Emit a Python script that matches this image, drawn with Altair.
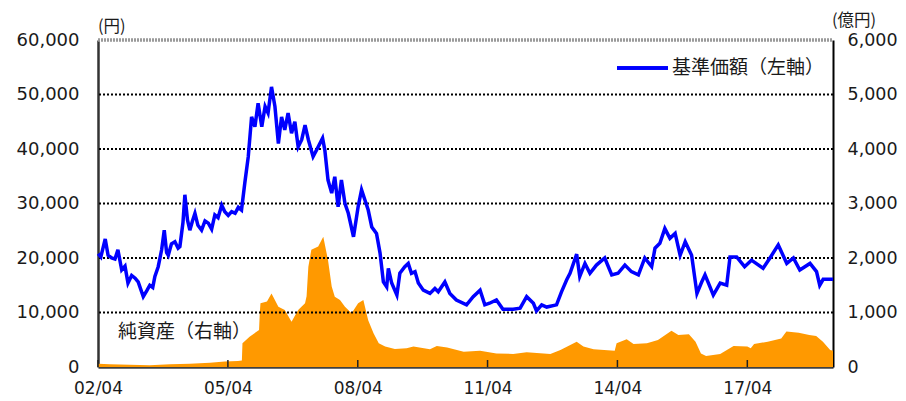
import altair as alt
import pandas as pd

# 基準価額（円） — left axis
nav_dates = [
    "2002-04-03", "2002-04-25", "2002-06-01", "2002-06-25", "2002-07-25", "2002-08-22",
    "2002-09-16", "2002-10-18", "2002-11-15", "2002-12-10", "2003-01-10", "2003-02-08",
    "2003-03-06", "2003-04-18", "2003-05-18", "2003-06-12", "2003-07-07", "2003-07-25",
    "2003-08-22", "2003-09-20", "2003-10-12", "2003-11-01", "2003-11-15", "2003-12-12",
    "2004-01-10", "2004-02-06", "2004-02-21", "2004-03-18", "2004-04-03", "2004-04-25",
    "2004-05-15", "2004-06-06", "2004-06-27", "2004-07-22", "2004-08-22", "2004-09-20",
    "2004-10-18", "2004-11-15", "2004-12-12", "2005-01-08", "2005-02-08", "2005-03-06",
    "2005-04-04", "2005-05-03", "2005-06-01", "2005-06-28", "2005-07-25", "2005-08-22",
    "2005-09-20", "2005-10-18", "2005-11-15", "2005-12-12", "2006-01-12", "2006-02-09",
    "2006-03-06", "2006-04-04", "2006-05-03", "2006-06-01", "2006-06-28", "2006-07-25",
    "2006-08-22", "2006-09-20", "2006-10-18", "2006-11-15", "2006-12-15", "2007-01-12",
    "2007-02-09", "2007-03-21", "2007-05-03", "2007-06-09", "2007-06-28", "2007-07-25",
    "2007-08-25", "2007-09-20", "2007-10-18", "2007-11-15", "2007-12-15", "2008-01-12",
    "2008-02-25", "2008-04-04", "2008-05-03", "2008-06-01", "2008-06-28", "2008-07-28",
    "2008-09-06", "2008-10-06", "2008-11-03", "2008-12-01", "2008-12-15", "2009-01-12",
    "2009-02-25", "2009-03-22", "2009-05-03", "2009-06-01", "2009-06-28", "2009-07-28",
    "2009-08-25", "2009-10-06", "2009-12-01", "2010-01-12", "2010-02-09", "2010-04-06",
    "2010-05-18", "2010-07-12", "2010-10-06", "2010-12-01", "2011-01-28", "2011-03-09",
    "2011-04-18", "2011-06-15", "2011-08-09", "2011-11-03", "2012-01-01", "2012-02-25",
    "2012-04-22", "2012-05-18", "2012-07-01", "2012-08-12", "2012-11-03", "2012-12-15",
    "2013-01-28", "2013-02-25", "2013-04-22", "2013-05-18", "2013-07-01", "2013-08-12",
    "2013-10-06", "2013-12-15", "2014-02-12", "2014-04-06", "2014-06-03", "2014-07-28",
    "2014-09-25", "2014-11-18", "2015-01-15", "2015-02-12", "2015-03-25", "2015-05-06",
    "2015-06-18", "2015-08-01", "2015-09-12", "2015-10-25", "2015-12-18", "2016-02-01",
    "2016-03-12", "2016-04-09", "2016-05-21", "2016-06-18", "2016-08-15", "2016-10-09",
    "2016-11-06", "2017-01-01", "2017-03-09", "2017-05-06", "2017-08-12", "2017-10-09",
    "2017-12-18", "2018-02-28", "2018-04-25", "2018-06-18", "2018-09-12", "2018-11-06",
    "2018-12-03", "2019-01-01", "2019-03-25",
]
nav_values = [
    20800, 20200, 23500, 20500, 20000, 19800,
    21500, 17800, 18500, 15400, 16800, 16300,
    15600, 12900, 14000, 15000, 14600, 16600,
    18400, 21500, 25100, 21000, 20500, 22600,
    23000, 21800, 22100, 26500, 31600, 27000,
    25100, 26800, 28200, 26000, 25100, 26800,
    26400, 25300, 27900, 27400, 29700, 28500,
    27800, 28500, 28200, 29300, 28800, 33800,
    38600, 45900, 44100, 48400, 44100, 47800,
    46600, 51400, 47800, 41000, 45900, 43500,
    46600, 42900, 45000, 40400, 41700, 44400,
    41700, 38600, 40400, 42000, 39800, 34300,
    31900, 34900, 29400, 34300, 30000, 28200,
    23900, 29400, 32500, 30600, 28800, 25700,
    24500, 20900, 15600, 14700, 18100, 15400,
    13200, 17200, 18400, 19000, 17200, 17500,
    15400, 14100, 13500, 14400, 13800, 15600,
    13500, 12300, 11400, 12900, 14100, 11400,
    11700, 12300, 10600, 10600, 10800, 12900,
    11700, 10300, 11400, 11000, 11400, 13800,
    16000, 17200, 20700, 16600, 19000, 17200,
    18700, 20000, 16900, 17200, 18700, 17500,
    16900, 20000, 18400, 21800, 22700, 25400,
    23600, 24500, 20500, 23000, 20500, 13500,
    15600, 16900, 14700, 13200, 15400, 15000,
    20200, 20200, 18400, 19600, 18100, 20000,
    22400, 19000, 20000, 17800, 19000, 17500,
    15000, 16100, 16100,
]

# 純資産（億円） — right axis
na_dates = [
    "2002-04-03", "2002-07-10", "2002-12-25", "2003-06-12", "2003-12-01", "2004-05-15",
    "2004-11-01", "2005-03-06", "2005-06-25", "2005-07-28", "2005-08-02", "2005-10-01",
    "2005-12-20", "2005-12-26", "2006-01-01", "2006-02-25", "2006-04-04", "2006-06-01",
    "2006-07-25", "2006-09-20", "2006-11-15", "2007-01-12", "2007-01-25", "2007-02-09",
    "2007-03-06", "2007-05-03", "2007-06-15", "2007-07-25", "2007-08-25", "2007-09-20",
    "2007-11-03", "2007-12-15", "2008-02-09", "2008-04-04", "2008-05-18", "2008-06-28",
    "2008-08-12", "2008-09-25", "2008-11-18", "2009-02-08", "2009-05-18", "2009-07-15",
    "2009-12-01", "2010-01-28", "2010-04-25", "2010-09-12", "2011-01-28", "2011-06-15",
    "2011-11-03", "2012-02-25", "2012-09-12", "2012-12-06", "2013-04-22", "2013-06-18",
    "2013-09-12", "2014-03-09", "2014-03-25", "2014-06-18", "2014-08-15", "2014-12-06",
    "2015-03-09", "2015-07-01", "2015-08-28", "2015-11-25", "2016-01-20", "2016-03-06",
    "2016-04-18", "2016-08-15", "2016-12-06", "2017-04-01", "2017-04-30", "2017-05-28",
    "2017-09-20", "2018-01-12", "2018-02-25", "2018-06-09", "2018-09-06", "2018-11-03",
    "2018-12-30", "2019-03-01", "2019-03-25",
]
na_values = [
    60, 50, 40, 30, 50, 60,
    80, 100, 110, 120, 435, 555,
    680, 985, 1170, 1200, 1350, 1105,
    1045, 830, 1045, 1170, 1300, 1840,
    2150, 2210, 2390, 1960, 1475, 1290,
    1230, 1105, 985, 1170, 1230, 860,
    620, 435, 375, 330, 345, 375,
    325, 385, 360, 280, 300, 250,
    240, 270, 240, 310, 465, 375,
    325, 300, 435, 510, 420, 435,
    495, 665, 585, 600, 465, 250,
    200, 240, 385, 375, 345, 420,
    465, 525, 650, 630, 585, 570,
    465, 310, 300,
]

tick_years = [2002, 2005, 2008, 2011, 2014, 2017]
yen_ticks = [0, 10000, 20000, 30000, 40000, 50000, 60000]
oku_ticks = [0, 1000, 2000, 3000, 4000, 5000, 6000]
grid_values = [10000, 20000, 30000, 40000, 50000]

W, H = 735, 327
NUM_FONT = "DejaVu Sans"
JP_FONT = "Noto Sans CJK JP"
TXT = "#1a1a1a"

nav_df = pd.DataFrame({"date": nav_dates, "nav": nav_values})
na_df = pd.DataFrame({"date": na_dates, "na": na_values})
grid_df = pd.DataFrame({"v": grid_values})
tick_df = pd.DataFrame({"date": [f"{y}-04-01" for y in tick_years]})

x_domain = [
    alt.DateTime(year=2002, month=4, date=1, utc=True),
    alt.DateTime(year=2019, month=3, date=25, utc=True),
]
xscale = alt.Scale(type="utc", domain=x_domain)
tick_vals = [alt.DateTime(year=y, month=4, date=1, utc=True) for y in tick_years]
xaxis = alt.Axis(
    values=tick_vals, labelExpr="utcFormat(datum.value, '%y/%m')", title=None,
    labelFont=NUM_FONT, labelFontSize=17, labelColor=TXT, labelFlush=False,
    ticks=False, tickSize=0, labelPadding=13, grid=False,
    domainColor="#404040", domainWidth=2.5,
)
X = alt.X("date:T", scale=xscale, axis=xaxis)

area = alt.Chart(na_df).mark_area(color="#FF9900").encode(
    x=X,
    y=alt.Y(
        "na:Q", scale=alt.Scale(domain=[0, 6000], nice=False),
        axis=alt.Axis(
            orient="right", values=oku_ticks, format=",.0f", title=None,
            labelFont=NUM_FONT, labelFontSize=17.5, labelColor=TXT,
            ticks=False, tickSize=0, labelPadding=14, grid=False,
            domainColor="#000000", domainWidth=2,
        ),
    ),
)

grid = alt.Chart(grid_df).mark_rule(color="#000000", strokeWidth=2, strokeDash=[2, 2]).encode(
    y=alt.Y("v:Q", scale=alt.Scale(domain=[0, 60000], nice=False), axis=None)
)

top = alt.Chart(grid_df).mark_rule(color="#9a9a9a", strokeWidth=2.5, strokeDash=[2, 1]).encode(
    x=alt.value(0), x2=alt.value(W), y=alt.value(0)
)

xticks = alt.Chart(tick_df).mark_rule(color="#222222", strokeWidth=1.5).encode(
    x=X, y=alt.value(H), y2=alt.value(H - 7)
)

line = alt.Chart(nav_df).mark_line(color="#0000FF", strokeWidth=3.5).encode(
    x=X,
    y=alt.Y(
        "nav:Q", scale=alt.Scale(domain=[0, 60000], nice=False),
        axis=alt.Axis(
            orient="left", values=yen_ticks, format=",.0f", title=None,
            labelFont=NUM_FONT, labelFontSize=18, labelColor=TXT,
            ticks=False, tickSize=0, labelPadding=19, grid=False,
            domainColor="#333333", domainWidth=2.5,
        ),
    ),
)


def label(text, x, y, size, font=JP_FONT):
    return alt.Chart(pd.DataFrame({"t": [text]})).mark_text(
        align="left", baseline="middle", font=font, fontSize=size, color=TXT
    ).encode(text="t:N", x=alt.value(x), y=alt.value(y))


legend_line = alt.Chart(grid_df).mark_rule(color="#0000FF", strokeWidth=3).encode(
    x=alt.value(519), x2=alt.value(570), y=alt.value(28)
)

chart = alt.layer(
    area, grid, top, xticks, line, legend_line,
    label("基準価額（左軸）", 574, 28, 19),
    label("純資産（右軸）", 20, 292, 19),
    label("(円)", 0, -13, 16.5),
    label("(億円)", 734, -19, 16.5),
).resolve_scale(y="independent").properties(
    width=W, height=H,
    autosize=alt.AutoSizeParams(type="none"),
    padding={"left": 90, "top": 32, "right": 65, "bottom": 34},
).configure_view(stroke=None)

chart.save("out.html", embed_options={"renderer": "svg", "actions": False})
